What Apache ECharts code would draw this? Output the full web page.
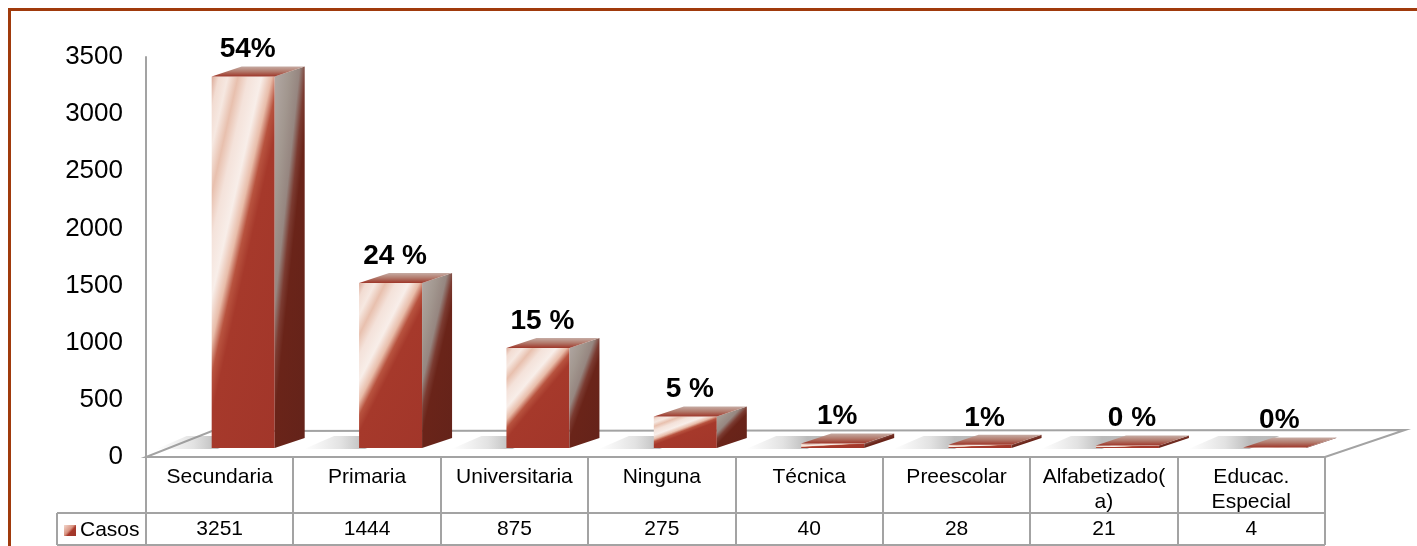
<!DOCTYPE html>
<html>
<head>
<meta charset="utf-8">
<script src="https://cdn.jsdelivr.net/npm/echarts@6/dist/echarts.min.js"></script>
<style>
html,body{margin:0;padding:0;background:#fff;}
#nivel{width:1417px;height:546px;}
</style>
</head>
<body>
<div id="nivel"></div>
<script>
// datos
var categorias = ['Secundaria', 'Primaria', 'Universitaria', 'Ninguna', 'Técnica', 'Preescolar', 'Alfabetizado(\na)', 'Educac.\nEspecial'];
var casos = [3251, 1444, 875, 275, 40, 28, 21, 4];
var porcentajes = ['54%', '24 %', '15 %', '5 %', '1%', '1%', '0 %', '0%'];
var yMin = 0, yMax = 3500, yPaso = 500;

// layout
var gLeft = 146, gTop = 57, gWidth = 1179, gHeight = 400;
var gBottom = gTop + gHeight;          // 457
var frontW = 63, sideDx = 30, sideDy = 10, depthY = 9, barShift = -8;
var filaCat = 56, filaVal = 32;
var fuente = 'Liberation Sans, Arial, sans-serif';
var gris = '#a3a3a3';

var frenteStops = [
    {offset: 0.00, color: '#dcaa98'},
    {offset: 0.05, color: '#f2dcd2'},
    {offset: 0.11, color: '#f6e8e1'},
    {offset: 0.18, color: '#e8c0ae'},
    {offset: 0.25, color: '#f4e2da'},
    {offset: 0.34, color: '#f8eee9'},
    {offset: 0.41, color: '#e8bca9'},
    {offset: 0.46, color: '#b8533f'},
    {offset: 0.52, color: '#a6392b'},
    {offset: 1.00, color: '#a2362a'}
];
var ladoStops = [
    {offset: 0.00, color: '#b3a9a5'},
    {offset: 0.22, color: '#a2978f'},
    {offset: 0.36, color: '#968680'},
    {offset: 0.45, color: '#7b3b31'},
    {offset: 0.53, color: '#6a2419'},
    {offset: 1.00, color: '#64231a'}
];

// gradiente con franjas diagonales dentro de la caja
function franjas(x, y, w, h, stops) {
    var nx = 0.75 * h, ny = w;
    var len = Math.sqrt(nx * nx + ny * ny) || 1;
    var ux = nx / len, uy = ny / len;
    var t = w * ux + h * uy;
    return new echarts.graphic.LinearGradient(x, y, x + ux * t, y + uy * t, stops, true);
}

function renderBarra(params, api) {
    var i = api.value(0), v = api.value(1);
    var base = api.coord([i, 0]);
    var tope = api.coord([i, v]);
    var x0 = base[0] + barShift, x1 = x0 + frontW;
    var yb = base[1] - depthY, yt = tope[1] - depthY;
    var h = yb - yt;
    return {
        type: 'group',
        children: [{
            type: 'polygon',
            shape: {points: [[x0 - 55, yb + 1], [x0 + 6, yb + 1], [x0 + 36, yb - 12], [x0 - 25, yb - 12]]},
            style: {fill: new echarts.graphic.LinearGradient(x0 - 55, 0, x0 + 6, 0, [
                {offset: 0, color: 'rgba(150,150,150,0)'},
                {offset: 0.6, color: 'rgba(140,140,140,0.25)'},
                {offset: 1, color: 'rgba(120,120,120,0.5)'}
            ], true)}
        }, {
            type: 'rect',
            shape: {x: x0, y: yt, width: frontW, height: h},
            style: {fill: franjas(x0, yt, frontW, h, frenteStops)}
        }, {
            type: 'polygon',
            shape: {points: [[x1, yt], [x1 + sideDx, yt - sideDy], [x1 + sideDx, yb - sideDy], [x1, yb]]},
            style: {fill: franjas(x1, yt - sideDy, sideDx, h + sideDy, ladoStops)}
        }, {
            type: 'polygon',
            shape: {points: [[x0, yt], [x1, yt], [x1 + sideDx, yt - sideDy], [x0 + sideDx, yt - sideDy]]},
            style: {fill: new echarts.graphic.LinearGradient(0, yt - sideDy, 0, yt, [
                {offset: 0, color: '#c6aca4'},
                {offset: 0.5, color: '#b2796b'},
                {offset: 1, color: '#9e3629'}
            ], true)}
        }, {
            type: 'text',
            style: {
                text: porcentajes[i],
                x: base[0] + 28, y: yt - 27,
                align: 'center', verticalAlign: 'middle',
                font: 'bold 28px ' + fuente, fill: '#000'
            }
        }]
    };
}

// piso y tabla
var gRight = gLeft + gWidth;
var colW = gWidth / categorias.length;
var elementos = [{
    type: 'polygon', z: -5,
    shape: {points: [[gLeft, gBottom], [gRight, gBottom], [gRight + 80, gBottom - 27], [gLeft + 66, gBottom - 26]]},
    style: {fill: '#fff', stroke: gris, lineWidth: 2}
}];
var yFila2 = gBottom + filaCat, yFin = yFila2 + filaVal;
elementos.push({type: 'line', z: -4, shape: {x1: 57, y1: yFila2, x2: gRight, y2: yFila2}, style: {stroke: gris, lineWidth: 2}});
elementos.push({type: 'line', z: -4, shape: {x1: 57, y1: yFin, x2: gRight, y2: yFin}, style: {stroke: gris, lineWidth: 2}});
elementos.push({type: 'line', z: -4, shape: {x1: 57, y1: yFila2, x2: 57, y2: yFin}, style: {stroke: gris, lineWidth: 2}});
for (var k = 0; k <= categorias.length; k++) {
    var xx = Math.round(gLeft + k * colW);
    elementos.push({type: 'line', z: -4, shape: {x1: xx, y1: gBottom, x2: xx, y2: yFin}, style: {stroke: gris, lineWidth: 2}});
}
// marco
elementos.push({type: 'line', z: 10, shape: {x1: 8, y1: 9.5, x2: 1417, y2: 9.5}, style: {stroke: '#a03a0c', lineWidth: 3}});
elementos.push({type: 'line', z: 10, shape: {x1: 9.5, y1: 8, x2: 9.5, y2: 546}, style: {stroke: '#a03a0c', lineWidth: 3}});

var chart = echarts.init(document.getElementById('nivel'));
chart.setOption({
    animation: false,
    backgroundColor: '#fff',
    grid: {left: gLeft, top: gTop, width: gWidth, height: gHeight},
    legend: {
        left: 64, top: 520, padding: 0,
        itemWidth: 12, itemHeight: 11,
        textStyle: {fontSize: 21, fontFamily: fuente, color: '#000', padding: [0, 0, 0, -1]},
        data: [{
            name: 'Casos', icon: 'rect',
            itemStyle: {color: new echarts.graphic.LinearGradient(0, 0, 1, 1, [
                {offset: 0, color: '#f3d8cd'},
                {offset: 0.45, color: '#d99482'},
                {offset: 0.6, color: '#a8392b'},
                {offset: 1, color: '#9e3529'}
            ])}
        }]
    },
    xAxis: [{
        type: 'category',
        data: categorias,
        axisLine: {show: false},
        axisTick: {show: false},
        axisLabel: {interval: 0, margin: 8, fontSize: 21, lineHeight: 25, color: '#000', fontFamily: fuente}
    }, {
        type: 'category',
        position: 'bottom',
        offset: filaCat,
        data: casos.map(String),
        axisLine: {show: false},
        axisTick: {show: false},
        axisLabel: {interval: 0, margin: 4, fontSize: 21, lineHeight: 25, color: '#000', fontFamily: fuente}
    }],
    yAxis: {
        type: 'value',
        min: yMin, max: yMax, interval: yPaso,
        axisLine: {show: true, lineStyle: {color: gris, width: 2}},
        axisTick: {show: false},
        splitLine: {show: false},
        axisLabel: {margin: 23, fontSize: 26, color: '#000', fontFamily: fuente,
            formatter: function (v) { return String(v); }}
    },
    graphic: {elements: elementos},
    series: [{
        name: 'Casos',
        type: 'custom',
        z: 3,
        renderItem: renderBarra,
        data: casos.map(function (c, i) { return [i, c]; })
    }]
});
</script>
</body>
</html>
